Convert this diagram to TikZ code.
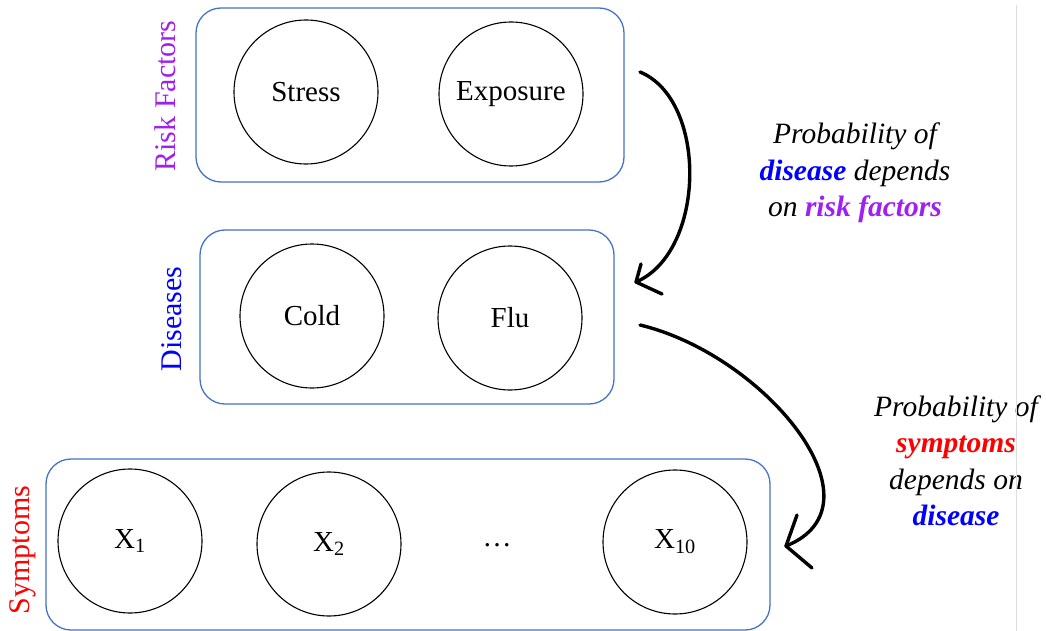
\documentclass[tikz,border=0pt]{standalone}
\usepackage{fontspec}
\setmainfont{Liberation Serif}
\usetikzlibrary{calc}
\definecolor{boxblue}{HTML}{4472C4}
\definecolor{riskpurple}{RGB}{160,32,240}
\definecolor{disblue}{RGB}{0,0,255}
\definecolor{symred}{RGB}{255,0,0}
\definecolor{rulegray}{RGB}{222,222,222}
\begin{document}
\begin{tikzpicture}[x=1pt,y=-1pt,
  bigfont/.style={font=\fontsize{29}{36.5}\selectfont},
  plate/.style={draw=boxblue,line width=1.3pt,rounded corners=25pt},
  var/.style={circle,draw=black,line width=1.1pt,minimum size=144pt,inner sep=0pt,bigfont},
  grouplabel/.style={rotate=90,font=\fontsize{30}{36}\selectfont,anchor=center},
  note/.style={align=center,font=\fontsize{29.5}{36.5}\selectfont\itshape},
  handarrow/.style={line width=3.4pt,line cap=round,line join=round,black}
]
\useasboundingbox (0,0) rectangle (1046,631);

% plates
\draw[plate] (196,8) rectangle (624,182);
\draw[plate] (200,230) rectangle (614,404);
\draw[plate] (46,459) rectangle (770,630);

% group labels
\node[grouplabel,text=riskpurple] (lrisk) at (165,96) {Risk Factors};
\node[grouplabel,text=disblue] (ldis) at (172,319) {Diseases};
\node[grouplabel,text=symred] (lsym) at (23,550) {Symptoms};

% variables
\node[var] (stress) at (306,92) {Stress};
\node[var] (exposure) at (511,94) {Exposure};
\node[var] (cold) at (312,316) {Cold};
\node[var] (flu) at (510,318) {Flu};
\node[var] (x1) at (130,541) {X\textsubscript{1}};
\node[var] (x2) at (329,544) {X\textsubscript{2}};
\node[bigfont] (dots) at (497,545) {…};
\node[var] (x10) at (675,542) {X\textsubscript{10}};

% explanatory notes
\node[note] (n1) at (855,173) {Probability of\\
  {\bfseries\color{disblue}disease} depends\\
  on {\bfseries\color{riskpurple}risk factors}};
\node[note] (n2) at (956,461) {Probability of\\
  {\bfseries\color{symred}symptoms}\\
  depends on\\
  {\bfseries\color{disblue}disease}};

% hand-drawn arrows
\coordinate (a1s) at (640,72);
\coordinate (a1e) at (636,282);
\coordinate (a2s) at (640,325);
\coordinate (a2e) at (786,546);
\draw[handarrow] (a1s) .. controls (708,100) and (706,252) .. (a1e);
\draw[handarrow] ($(a1e)+(5,-18)$) -- (a1e) -- ($(a1e)+(26,12)$);
\draw[handarrow] (a2s) .. controls (765,355) and (888,505) .. (a2e);
\draw[handarrow] ($(a2e)+(11,-31)$) -- (a2e) -- ($(a2e)+(26,22)$);

% page rule
\draw[rulegray,line width=1pt] (1016,5) -- (1016,631);
\end{tikzpicture}
\end{document}
